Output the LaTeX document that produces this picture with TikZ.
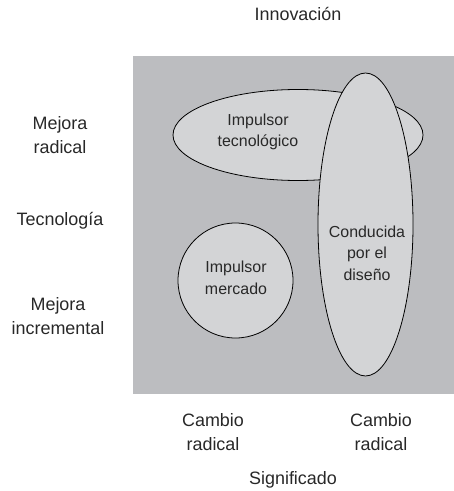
\documentclass[tikz,border=0pt]{standalone}
\usepackage{fontspec}
\setmainfont{Liberation Sans}
\usetikzlibrary{shapes,positioning}
\definecolor{fondo}{RGB}{188,189,192}
\definecolor{relleno}{RGB}{211,212,214}
\definecolor{texto}{RGB}{40,40,40}
\tikzstyle{every picture}=[x=1bp, y=-1bp]
\tikzstyle{zona}=[ellipse, draw=black, line width=0.8pt, fill=relleno, inner sep=0pt]
\tikzstyle{eje}=[align=center, text=texto, font=\fontsize{18}{23.5}\selectfont]
\tikzstyle{dentro}=[align=center, text=texto, font=\fontsize{16}{21.5}\selectfont]

\begin{document}
\begin{tikzpicture}
	\useasboundingbox (0,0) rectangle (454,491);
	\fill[fondo] (133,56) rectangle (454,394);
	\node (T) [zona, minimum width=250bp, minimum height=91bp] at (298,135) {};
	\node (D) [zona, minimum width=95bp, minimum height=303bp] at (365.5,224.5) {};
	\node (M) [zona, circle, minimum size=115bp] at (235.5,280.5) {};
	\node (Tt) [dentro] at (258,132) {Impulsor\\tecnológico};
	\node (Dt) [dentro] at (367,253) {Conducida\\por el\\diseño};
	\node (Mt) [dentro] at (236,278) {Impulsor\\mercado};
	\node (I) [eje] at (298,14) {Innovación};
	\node (R) [eje] at (60,135) {Mejora\\radical};
	\node (Te) [eje] at (60,221) {Tecnología};
	\node (In) [eje] at (58,316) {Mejora\\incremental};
	\node (C1) [eje] at (213,432) {Cambio\\radical};
	\node (C2) [eje] at (381,432) {Cambio\\radical};
	\node (S) [eje] at (293,480) {Significado};
\end{tikzpicture}
\end{document}
